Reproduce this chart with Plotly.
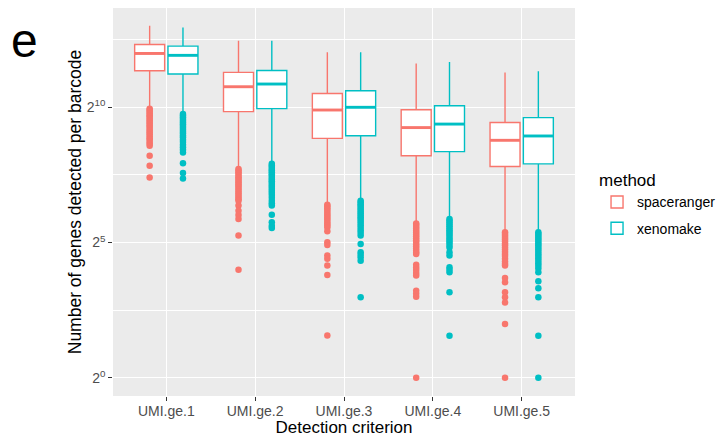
import plotly.graph_objects as go

categories = ["UMI.ge.1", "UMI.ge.2", "UMI.ge.3", "UMI.ge.4", "UMI.ge.5"]
methods = ["spaceranger", "xenomake"]

# all values are log2(number of genes detected per barcode)
spaceranger_q1 = [11.35, 9.84, 8.85, 8.21, 7.81]
spaceranger_median = [11.99, 10.76, 9.90, 9.25, 8.78]
spaceranger_q3 = [12.32, 11.29, 10.51, 9.91, 9.44]
spaceranger_lower = [10.02, 7.78, 6.45, 5.75, 5.42]
spaceranger_upper = [13.01, 12.46, 12.03, 11.62, 11.29]
spaceranger_outliers = [
    [9.95, 9.90, 9.84, 9.78, 9.71, 9.66, 9.59, 9.52, 9.46, 9.40, 9.33, 9.27, 9.20,
     9.13, 9.07, 9.00, 8.93, 8.86, 8.80, 8.72, 8.65, 8.58, 8.21, 7.84, 7.41],
    [7.72, 7.66, 7.60, 7.54, 7.47, 7.41, 7.35, 7.28, 7.22, 7.15, 7.09, 7.02, 6.95,
     6.88, 6.81, 6.74, 6.67, 6.60, 6.55, 6.37, 6.18, 6.02, 5.87, 5.26, 4.00],
    [6.40, 6.34, 6.27, 6.20, 6.13, 6.06, 5.99, 5.92, 5.85, 5.77, 5.70, 5.63, 5.56,
     5.42, 5.01, 4.91, 4.52, 4.40, 4.15, 3.80, 1.57],
    [5.71, 5.65, 5.58, 5.51, 5.44, 5.37, 5.30, 5.23, 5.16, 5.09, 5.02, 4.94, 4.86,
     4.78, 4.70, 4.62, 4.58, 4.18, 4.08, 3.99, 3.88, 3.78, 3.22, 3.11, 3.00, 0.00],
    [5.38, 5.32, 5.25, 5.18, 5.11, 5.04, 4.97, 4.90, 4.82, 4.74, 4.66, 4.58, 4.50,
     4.40, 4.30, 4.22, 4.15, 3.69, 3.53, 3.16, 2.98, 2.79, 1.99, 0.00],
]

xenomake_q1 = [11.23, 9.95, 8.95, 8.36, 7.91]
xenomake_median = [11.92, 10.86, 10.00, 9.38, 8.94]
xenomake_q3 = [12.26, 11.36, 10.61, 10.06, 9.62]
xenomake_lower = [9.84, 7.91, 6.55, 5.87, 5.38]
xenomake_upper = [12.95, 12.46, 12.03, 11.67, 11.33]
xenomake_outliers = [
    [9.75, 9.70, 9.63, 9.57, 9.50, 9.44, 9.37, 9.31, 9.24, 9.17, 9.10, 9.03, 8.96,
     8.89, 8.80, 8.72, 8.62, 8.52, 8.43, 8.33, 7.93, 7.57, 7.37],
    [7.91, 7.85, 7.79, 7.72, 7.66, 7.60, 7.53, 7.47, 7.40, 7.33, 7.27, 7.20, 7.13,
     7.06, 6.99, 6.92, 6.84, 6.76, 6.66, 6.55, 6.45, 6.37, 6.03, 5.75, 5.62, 5.54],
    [6.55, 6.49, 6.42, 6.36, 6.29, 6.22, 6.15, 6.08, 6.01, 5.94, 5.87, 5.80, 5.72,
     5.64, 5.55, 5.46, 5.36, 5.26, 4.95, 4.64, 4.55, 4.46, 4.33, 2.98],
    [5.87, 5.81, 5.74, 5.67, 5.60, 5.53, 5.46, 5.39, 5.32, 5.24, 5.16, 5.08, 5.00,
     4.91, 4.82, 4.64, 4.52, 4.09, 4.00, 3.90, 3.16, 1.56],
    [5.38, 5.32, 5.25, 5.18, 5.11, 5.04, 4.97, 4.90, 4.82, 4.74, 4.66, 4.58, 4.50,
     4.42, 4.33, 4.24, 4.14, 4.04, 3.90, 3.57, 3.31, 2.98, 1.56, 0.00],
]

y_tick_exponents = [0, 5, 10]
y_tick_labels = ["2<sup>0</sup>", "2<sup>5</sup>", "2<sup>10</sup>"]
y_minor_exponents = [2.5, 7.5, 12.5]

stats = {
    "spaceranger": (spaceranger_q1, spaceranger_median, spaceranger_q3,
                    spaceranger_lower, spaceranger_upper, spaceranger_outliers),
    "xenomake": (xenomake_q1, xenomake_median, xenomake_q3,
                 xenomake_lower, xenomake_upper, xenomake_outliers),
}
colors = {"spaceranger": "#F8766D", "xenomake": "#00BFC4"}

DODGE = 0.75
BOX_W = DODGE / 2 * 0.9
positions = list(range(1, len(categories) + 1))
offsets = {"spaceranger": -DODGE / 4, "xenomake": DODGE / 4}

FONT = "Liberation Sans, Arial, sans-serif"
fig = go.Figure()

for i, m in enumerate(methods):
    q1, med, q3, lo, hi, outs = stats[m]
    xs = [p + offsets[m] for p in positions]
    fig.add_trace(go.Box(
        x=xs, q1=q1, median=med, q3=q3, lowerfence=lo, upperfence=hi,
        width=BOX_W, name=m, fillcolor="white", boxpoints=False,
        line=dict(color=colors[m], width=1.4), whiskerwidth=0,
        legendgroup=m, hoverinfo="skip",
    ))

for m in methods:
    q1, med, q3, lo, hi, outs = stats[m]
    mx, my = [], []
    for p, v in zip(positions, med):
        c = p + offsets[m]
        mx += [c - BOX_W / 2, c + BOX_W / 2, None]
        my += [v, v, None]
    fig.add_trace(go.Scatter(x=mx, y=my, mode="lines", showlegend=False,
                             line=dict(color=colors[m], width=2.9), hoverinfo="skip"))

for m in methods:
    q1, med, q3, lo, hi, outs = stats[m]
    ox, oy = [], []
    for p, vals in zip(positions, outs):
        ox += [p + offsets[m]] * len(vals)
        oy += vals
    fig.add_trace(go.Scatter(x=ox, y=oy, mode="markers", showlegend=False,
                             marker=dict(color=colors[m], size=6.5, line=dict(width=0)),
                             hoverinfo="skip"))

tickfont = dict(family=FONT, size=14, color="#4D4D4D")
TITLE_SIZE = 17.5
fig.update_layout(
    width=717, height=437,
    margin=dict(l=113, r=142, t=8, b=41, autoexpand=False),
    paper_bgcolor="white", plot_bgcolor="#EBEBEB",
    font=dict(family=FONT, color="black"),
    xaxis=dict(
        range=[0.4, 5.6], tickmode="array", tickvals=positions, ticktext=categories,
        showgrid=True, gridcolor="white", gridwidth=1.4, zeroline=False,
        ticks="outside", ticklen=3.7, tickcolor="#333333", tickwidth=1.1,
        tickfont=tickfont, showline=False, automargin=False, ticklabelstandoff=-2,
        title=dict(text="Detection criterion", font=dict(family=FONT, size=17, color="black"), standoff=0),
    ),
    yaxis=dict(
        range=[-0.67, 13.67], tickmode="array", tickvals=y_tick_exponents, ticktext=y_tick_labels,
        showgrid=True, gridcolor="white", gridwidth=1.4, zeroline=False,
        ticks="outside", ticklen=3.7, tickcolor="#333333", tickwidth=1.1,
        tickfont=tickfont, showline=False, automargin=False,
        minor=dict(tickmode="array", tickvals=y_minor_exponents, showgrid=True,
                   gridcolor="white", gridwidth=0.7, ticks=""),
        title=dict(text="Number of genes detected per barcode",
                   font=dict(family=FONT, size=TITLE_SIZE, color="black"), standoff=0),
    ),
    legend=dict(
        x=1.0477, xanchor="left", y=0.494, yanchor="middle",
        title=dict(text="method", font=dict(family=FONT, size=17, color="black")),
        font=dict(family=FONT, size=14, color="black"),
        tracegroupgap=5, bgcolor="rgba(0,0,0,0)",
    ),
    annotations=[dict(
        text="e", xref="paper", yref="paper", x=-0.2248, y=0.917,
        xanchor="left", yanchor="middle", showarrow=False,
        font=dict(family=FONT, size=48, color="black"),
    )],
)

fig.write_html("out.html")
